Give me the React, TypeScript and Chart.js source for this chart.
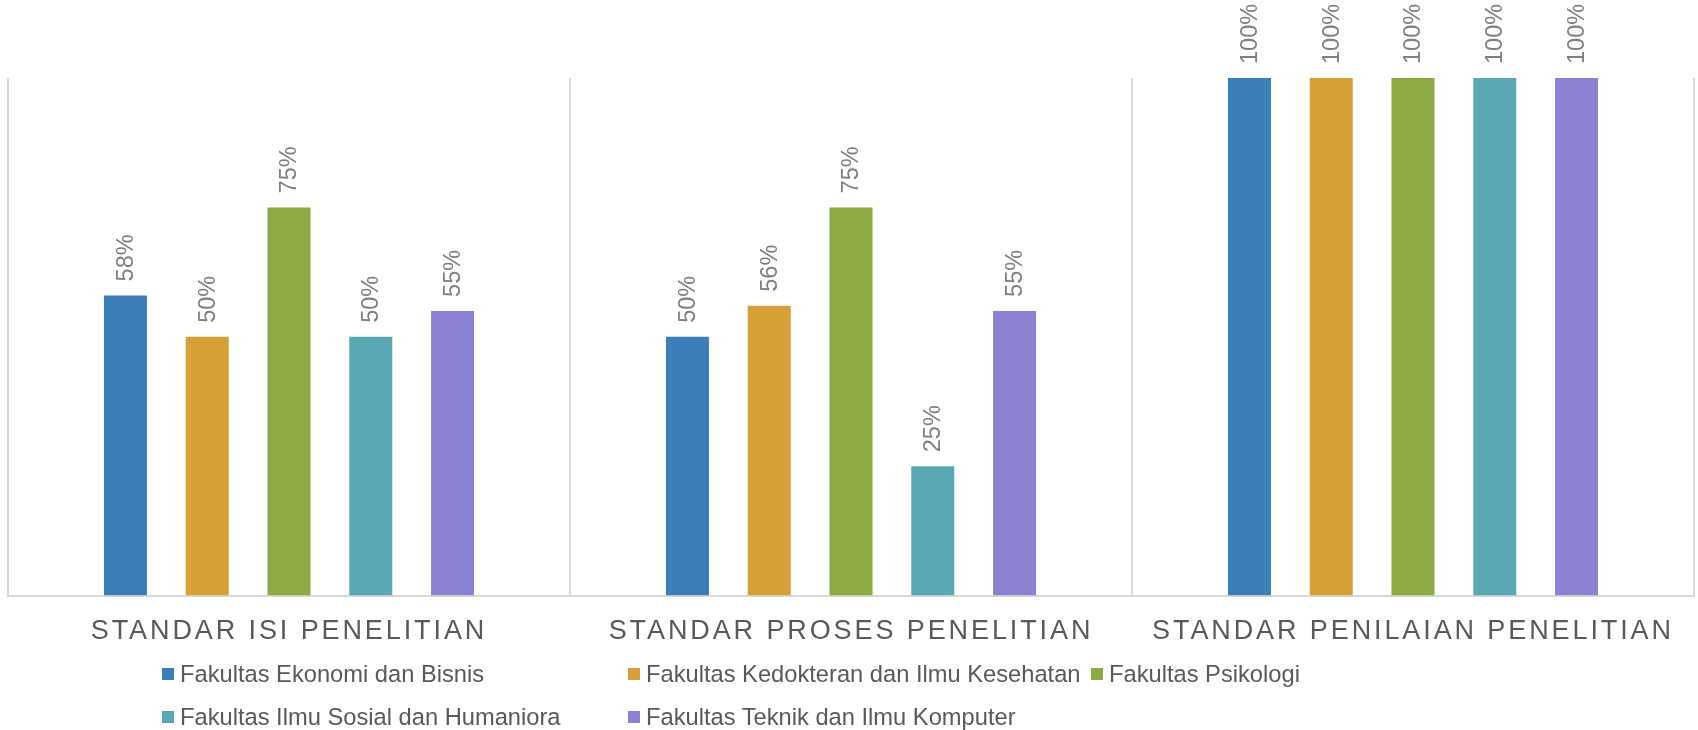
import React, { useEffect, useRef } from "react";
import { Chart, registerables } from "chart.js";

Chart.register(...registerables);

const categories = [
  "STANDAR ISI PENELITIAN",
  "STANDAR PROSES PENELITIAN",
  "STANDAR PENILAIAN PENELITIAN",
];

const seriesNames = [
  "Fakultas Ekonomi dan Bisnis",
  "Fakultas Kedokteran dan Ilmu Kesehatan",
  "Fakultas Psikologi",
  "Fakultas Ilmu Sosial dan Humaniora",
  "Fakultas Teknik dan Ilmu Komputer",
];

const ekonomiBisnis = [58, 50, 100];
const kedokteranKesehatan = [50, 56, 100];
const psikologi = [75, 75, 100];
const sosialHumaniora = [50, 25, 100];
const teknikKomputer = [55, 55, 100];

const seriesColors = ["#3a7fba", "#d89e38", "#8baa43", "#5aa8b4", "#8a82d2"];

const FONT = "'Liberation Sans', Arial, sans-serif";

// legend layout (grid-like, like the original)
const legendCols = [162, 628, 1091];
const legendRows = [674, 717];

const labelSpacingPlugin = {
  id: "labelSpacing",
  beforeDraw(chart: any) {
    (chart.ctx as any).letterSpacing = "2.9px";
  },
  beforeDatasetsDraw(chart: any) {
    (chart.ctx as any).letterSpacing = "0px";
  },
};

const valueLabelPlugin = {
  id: "valueLabels",
  afterDatasetsDraw(chart: any) {
    const ctx = chart.ctx;
    chart.data.datasets.forEach((ds: any, di: number) => {
      const meta = chart.getDatasetMeta(di);
      meta.data.forEach((el: any, i: number) => {
        const v = ds.data[i];
        ctx.save();
        (ctx as any).letterSpacing = "0px";
        ctx.translate(el.x, el.y - 14);
        ctx.rotate(-Math.PI / 2);
        ctx.font = `23.5px ${FONT}`;
        ctx.fillStyle = "#7f7f7f";
        ctx.textAlign = "left";
        ctx.textBaseline = "middle";
        ctx.fillText(`${v}%`, 0, 1);
        ctx.restore();
      });
    });
  },
};

export default function App() {
  const canvasRef = useRef<HTMLCanvasElement | null>(null);

  useEffect(() => {
    document.body.style.margin = "0";
    document.body.style.overflow = "hidden";
    const canvas = canvasRef.current;
    if (!canvas) return;
    const allSeries = [
      ekonomiBisnis,
      kedokteranKesehatan,
      psikologi,
      sosialHumaniora,
      teknikKomputer,
    ];
    const chart = new Chart(canvas, {
      type: "bar",
      data: {
        labels: categories,
        datasets: allSeries.map((d, i) => ({
          label: seriesNames[i],
          data: d,
          backgroundColor: seriesColors[i],
          borderWidth: 0,
          categoryPercentage: 0.7275,
          barPercentage: 0.526,
        })),
      },
      options: {
        animation: false,
        responsive: false,
        devicePixelRatio: 1,
        layout: { padding: { left: 8, right: 4, top: 78, bottom: 62 } },
        plugins: {
          legend: { display: false },
          tooltip: { enabled: false },
        },
        scales: {
          x: {
            grid: {
              display: true,
              offset: true,
              color: "#d9d9d9",
              lineWidth: 2,
              drawTicks: false,
            },
            border: { display: true, color: "#d9d9d9", width: 2 },
            ticks: {
              color: "#595959",
              font: { family: FONT, size: 27 },
              padding: 20,
              maxRotation: 0,
              autoSkip: false,
            },
          },
          y: {
            display: false,
            min: 0,
            max: 100,
          },
        },
      },
      plugins: [labelSpacingPlugin, valueLabelPlugin],
    });
    return () => chart.destroy();
  }, []);

  const legendItems = seriesNames.map((name, i) => {
    const col = i < 3 ? i : i - 3;
    const row = i < 3 ? 0 : 1;
    return (
      <div
        key={name}
        style={{
          position: "absolute",
          left: legendCols[col],
          top: legendRows[row] - 14,
          height: 28,
          display: "flex",
          alignItems: "center",
          whiteSpace: "nowrap",
          fontFamily: FONT,
          fontSize: 23.7,
          color: "#595959",
        }}
      >
        <span
          style={{
            display: "inline-block",
            width: 12,
            height: 12,
            background: seriesColors[i],
            marginRight: 6,
          }}
        />
        <span>{name}</span>
      </div>
    );
  });

  return (
    <div
      style={{
        position: "absolute",
        left: 0,
        top: 0,
        width: 1698,
        height: 730,
        background: "#ffffff",
      }}
    >
      <canvas
        ref={canvasRef}
        width={1698}
        height={730}
        style={{ display: "block", width: 1698, height: 730 }}
      />
      {legendItems}
    </div>
  );
}
